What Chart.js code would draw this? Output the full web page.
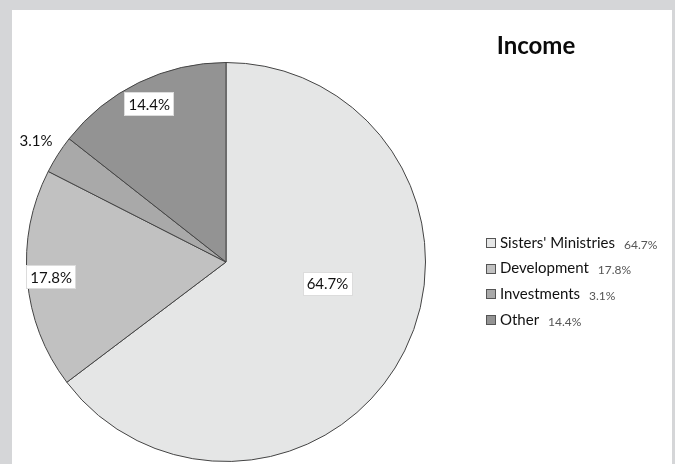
<!DOCTYPE html>
<html>
<head>
<meta charset="utf-8">
<script src="https://cdn.jsdelivr.net/npm/chart.js@4/dist/chart.umd.min.js"></script>
<style>
  html, body { margin: 0; padding: 0; background: #d5d6d8; width: 675px; height: 464px; overflow: hidden; }
  #panel { position: absolute; left: 12px; top: 10px; width: 660px; height: 460px; background: #ffffff; }
  #wrap { position: absolute; left: 0; top: 0; width: 675px; height: 464px; }
</style>
</head>
<body>
<div id="panel"></div>
<div id="wrap"><canvas id="c" width="675" height="464"></canvas></div>
<script>
const categories = ["Sisters' Ministries", "Development", "Investments", "Other"];
const values = [64.7, 17.8, 3.1, 14.4];
const valueLabels = ["64.7%", "17.8%", "3.1%", "14.4%"];
const sliceColors = ["#e5e6e6", "#c1c1c1", "#a9a9a9", "#939393"];
const chartTitle = "Income";

// label placement within each slice (fraction of slice angle, fraction of radius)
const labelAngleFrac = [0.438, 0.5, 0.5, 0.5];
const labelRadiusFrac = [0.52, 0.88, 1.13, 0.88];
const labelBoxed = [true, true, false, true];

const FONT = "Lato, 'Open Sans', sans-serif";

const labelPlugin = {
  id: 'sliceLabels',
  afterDatasetsDraw(chart) {
    const ctx = chart.ctx;
    const meta = chart.getDatasetMeta(0);
    ctx.save();
    ctx.font = "15px " + FONT;
    ctx.textAlign = 'center';
    ctx.textBaseline = 'middle';
    meta.data.forEach((arc, i) => {
      const p = arc.getProps(['x', 'y', 'startAngle', 'endAngle', 'outerRadius'], true);
      const a = p.startAngle + (p.endAngle - p.startAngle) * labelAngleFrac[i];
      const r = p.outerRadius * labelRadiusFrac[i];
      const x = p.x + Math.cos(a) * r;
      const y = p.y + Math.sin(a) * r;
      const t = valueLabels[i];
      const w = ctx.measureText(t).width;
      if (labelBoxed[i]) {
        ctx.fillStyle = '#ffffff';
        ctx.fillRect(Math.round(x - w / 2 - 4), Math.round(y - 12), Math.round(w + 8), 24);
        ctx.strokeStyle = '#dcdcdc';
        ctx.lineWidth = 1;
        ctx.strokeRect(Math.round(x - w / 2 - 4) + 0.5, Math.round(y - 12) + 0.5, Math.round(w + 8) - 1, 23);
      }
      ctx.fillStyle = '#111111';
      ctx.fillText(t, x, y + 1);
    });
    ctx.restore();
  }
};

const legendPlugin = {
  id: 'customLegend',
  afterDraw(chart) {
    const ctx = chart.ctx;
    ctx.save();
    // title
    ctx.font = "bold 24px " + FONT;
    ctx.fillStyle = '#0a0a0a';
    ctx.textAlign = 'center';
    ctx.textBaseline = 'alphabetic';
    ctx.fillText(chartTitle, 536, 54);
    // legend
    const x0 = 486, y0 = 243, step = 25.6;
    categories.forEach((name, i) => {
      const y = y0 + i * step;
      ctx.fillStyle = sliceColors[i];
      ctx.fillRect(x0, Math.round(y - 5), 10, 10);
      ctx.strokeStyle = '#555555';
      ctx.lineWidth = 1;
      ctx.strokeRect(x0 + 0.5, Math.round(y - 5) + 0.5, 9, 9);
      ctx.textAlign = 'left';
      ctx.textBaseline = 'middle';
      ctx.font = "15px " + FONT;
      ctx.fillStyle = '#111111';
      ctx.fillText(name, x0 + 14, y);
      const w = ctx.measureText(name).width;
      ctx.font = "12px " + FONT;
      ctx.fillStyle = '#555555';
      ctx.fillText(valueLabels[i], x0 + 14 + w + 9, y + 2);
    });
    ctx.restore();
  }
};

new Chart(document.getElementById('c'), {
  type: 'pie',
  data: {
    labels: categories,
    datasets: [{
      data: values,
      backgroundColor: sliceColors,
      borderColor: '#444444',
      borderWidth: 1
    }]
  },
  options: {
    responsive: false,
    animation: false,
    events: [],
    layout: { padding: { left: 26, right: 249, top: 62, bottom: 2 } },
    plugins: {
      legend: { display: false },
      title: { display: false },
      tooltip: { enabled: false }
    }
  },
  plugins: [labelPlugin, legendPlugin]
});
</script>
</body>
</html>
